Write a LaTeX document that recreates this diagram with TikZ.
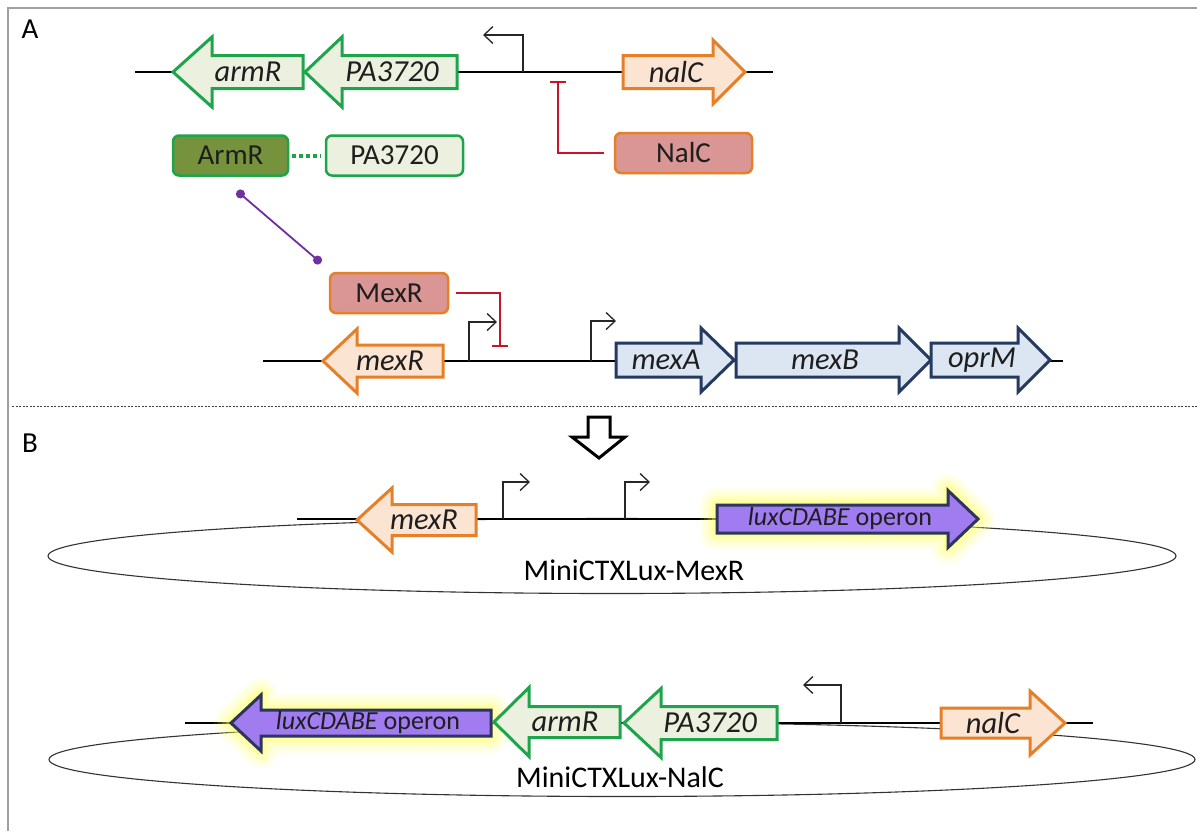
\documentclass[tikz,border=0pt]{standalone}
\usepackage{fontspec}
\setmainfont{Carlito}
\usepackage{tikz}
\usetikzlibrary{arrows}
\usetikzlibrary{arrows.meta}

% block arrow: style, tail x, head-back x, tip x, y, body half, head half
\newcommand{\gene}[7]{%
\path[#1] (#2,{#5-#6}) -- (#3,{#5-#6}) -- (#3,{#5-#7}) -- (#4,#5) --
	(#3,{#5+#7}) -- (#3,{#5+#6}) -- (#2,{#5+#6}) -- cycle;}

\begin{document}
\begin{tikzpicture}[x=1pt,y=-1pt,
  font=\fontsize{29}{33}\selectfont,
  dna/.style={draw=black,line width=2.2pt},
  plasmid/.style={draw=black!80,line width=1.1pt},
  greengene/.style={draw=geneGreen,fill=geneGreenFill,line width=3pt,line join=miter},
  orangegene/.style={draw=orangeLine,fill=orangeFill,line width=3pt,line join=miter},
  bluegene/.style={draw=blueLine,fill=blueFill,line width=3pt,line join=miter},
  luxgene/.style={draw=luxLine,fill=luxFill,line width=3pt,line join=miter},
  glow/.style={draw=glowYellow,line join=round},
  genelabel/.style={inner sep=0pt,text=textColor,font=\fontsize{30.5}{34}\selectfont\itshape},
  luxlabel/.style={inner sep=0pt,text=textColor,font=\fontsize{26}{30}\selectfont},
  protein/.style={rounded corners=6pt,line width=2.5pt,minimum height=40pt,inner sep=0pt,text=textColor},
  promoter/.style={draw=black!85,line width=1.3pt,-{Straight Barb[length=9pt,width=17pt]}},
  repress/.style={draw=repressRed,line width=2pt,-{Bar[width=16pt]}}]
\definecolor{geneGreen}{RGB}{30,165,75}
\definecolor{geneGreenFill}{RGB}{235,241,222}
\definecolor{armRFill}{RGB}{118,146,60}
\definecolor{orangeLine}{RGB}{230,128,40}
\definecolor{orangeFill}{RGB}{252,228,210}
\definecolor{roseFill}{RGB}{217,150,148}
\definecolor{blueLine}{RGB}{36,58,94}
\definecolor{blueFill}{RGB}{220,230,242}
\definecolor{luxFill}{RGB}{160,124,240}
\definecolor{luxLine}{RGB}{44,52,96}
\definecolor{glowYellow}{RGB}{255,255,90}
\definecolor{repressRed}{RGB}{200,20,40}
\definecolor{bondPurple}{RGB}{112,48,160}
\definecolor{textColor}{RGB}{30,30,30}
\definecolor{frameGray}{RGB}{160,160,160}

\path[use as bounding box,fill=white] (0,0) rectangle (1197,831);

% frame and separator
\path[draw=frameGray,line width=2pt] (8,831) -- (8,8) -- (1197,8);
\path[draw=black!75,line width=0.9pt,dash pattern=on 2pt off 1.5pt] (12,406) -- (1197,406);

\node[anchor=center,inner sep=0pt] (labA) at (30,29) {A};
\node[anchor=center,inner sep=0pt] (labB) at (30,443) {B};

% panel A, nalC locus
\path[dna] (135,72) -- (773,72);
\gene{greengene}{303}{212}{173}{72}{16.5}{35}
\gene{greengene}{457}{342}{305}{72}{16.5}{35}
\gene{orangegene}{623}{713}{745}{72}{16.5}{32}
\node[genelabel] (armRg) at (248,72) {armR};
\node[genelabel] (PAg) at (392,72) {PA3720};
\node[genelabel] (nalCg) at (676,72) {nalC};

\coordinate (pNalC) at (523,72);
\path[promoter] (pNalC) |- ++(-40,-37);

\node[protein,draw=geneGreen,fill=armRFill,minimum width=115pt] (ArmR) at (230.5,155.5) {ArmR};
\node[protein,draw=geneGreen,fill=geneGreenFill,minimum width=137pt] (PA) at (394.5,155.5) {PA3720};
\node[protein,draw=orangeLine,fill=roseFill,minimum width=137pt] (NalC) at (683.5,153) {NalC};
\node[protein,draw=orangeLine,fill=roseFill,minimum width=118pt] (MexR) at (389,293) {MexR};

\path[draw=geneGreen,line width=4pt,dash pattern=on 3.5pt off 3.5pt,shorten <=3pt,shorten >=4pt] (ArmR) -- (PA);

\coordinate (nalCsite) at (558,81);
\path[repress,shorten <=10pt] (NalC.west) -| (nalCsite);

\coordinate (armRdot) at (237,191);
\coordinate (mexRdot) at (321,263);
\path[draw=bondPurple,line width=1.8pt,{Circle[length=9pt]}-{Circle[length=9pt]}] (armRdot) -- (mexRdot);

% panel A, mexAB-oprM locus
\path[dna] (263,361) -- (1063,361);
\gene{orangegene}{443}{357}{323}{361}{16}{32}
\gene{bluegene}{616}{701}{734}{360}{17}{32}
\gene{bluegene}{736}{899}{931}{360}{17}{32}
\gene{bluegene}{931}{1018}{1050}{360}{17}{32}
\node[genelabel] (mexRg) at (390,361) {mexR};
\node[genelabel] (mexAg) at (666,360) {mexA};
\node[genelabel] (mexBg) at (825,360) {mexB};
\node[genelabel] (oprMg) at (982,360) {oprM};

\coordinate (pMexR) at (469,361);
\coordinate (pMexA) at (591,361);
\path[promoter] (pMexR) |- ++(28,-39);
\path[promoter] (pMexA) |- ++(25,-40);

\coordinate (mexRsite) at (500,347);
\path[repress,shorten <=7pt] (MexR.east) -| (mexRsite);

% transition arrow
\path[draw=black,fill=white,line width=3pt,line join=miter] (588,417) -- (610,417) -- (610,437) --
	(625,437) -- (599,458) -- (572,437) -- (588,437) -- cycle;

% panel B, MiniCTXLux-MexR
\path[plasmid] (612,556) ellipse [x radius=564,y radius=37.5];
\path[dna] (297,519) -- (717,519);
\foreach \w/\o in {34/0.10,26/0.14,18/0.2,10/0.3}{
  \gene{glow,line width=\w pt,opacity=\o}{717}{948}{978}{519}{14}{28.5}}
\gene{orangegene}{476}{392}{357}{520}{15.5}{32}
\gene{luxgene}{717}{948}{978}{519}{14}{28.5}
\node[genelabel] (mexRb) at (424,520) {mexR};
\node[luxlabel] (luxB) at (840,519) {\textit{luxCDABE} operon};

\coordinate (pMexRb) at (503,519);
\coordinate (pMexAb) at (625,519);
\path[promoter] (pMexRb) |- ++(27,-37);
\path[promoter] (pMexAb) |- ++(25,-37);

\node[inner sep=0pt,font=\fontsize{30}{34}\selectfont] (ctxMexR) at (634,570) {MiniCTXLux-MexR};

% panel B, MiniCTXLux-NalC
\path[plasmid] (622,759.5) ellipse [x radius=573,y radius=37];
\path[dna] (185,723) -- (1093,723);
\foreach \w/\o in {34/0.10,26/0.14,18/0.2,10/0.3}{
  \gene{glow,line width=\w pt,opacity=\o}{491}{261}{231}{723}{13}{28}}
\gene{luxgene}{491}{261}{231}{723}{13}{28}
\gene{greengene}{620}{529}{494}{722}{15.5}{34.5}
\gene{greengene}{777}{661}{624}{723}{16.5}{34.5}
\gene{orangegene}{941}{1030}{1065}{723}{15}{32}
\node[luxlabel] (luxN) at (368,723) {\textit{luxCDABE} operon};
\node[genelabel] (armRn) at (565,722) {armR};
\node[genelabel] (PAn) at (710,723) {PA3720};
\node[genelabel] (nalCn) at (993,723) {nalC};

\coordinate (pNalCb) at (841,723);
\path[promoter] (pNalCb) |- ++(-38,-38);

\node[inner sep=0pt,font=\fontsize{30}{34}\selectfont] (ctxNalC) at (620,777) {MiniCTXLux-NalC};
\end{tikzpicture}
\end{document}
